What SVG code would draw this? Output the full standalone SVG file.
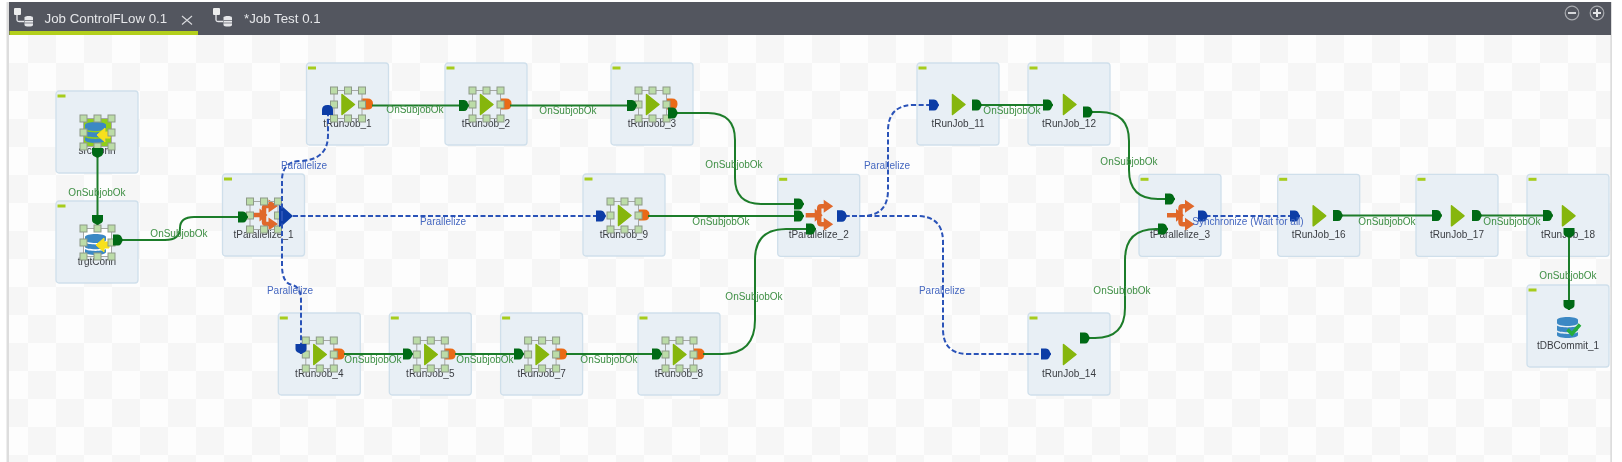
<svg xmlns="http://www.w3.org/2000/svg" width="1622" height="462" viewBox="0 0 1622 462">
<style>
.box{fill:#e8eff5;stroke:#cfdfeb;stroke-width:1.3}
.ind{fill:#a6cc1e}
.nl{font:10px "Liberation Sans",Arial,sans-serif;fill:#3a3d42;text-anchor:middle}
.gl{font:10px "Liberation Sans",Arial,sans-serif;fill:#3f8f45;text-anchor:middle}
.bl{font:10px "Liberation Sans",Arial,sans-serif;fill:#4668c0;text-anchor:middle}
.tab{font:13.3px "Liberation Sans",Arial,sans-serif;fill:#e6e7ea}
.g{fill:none;stroke:#1f7d2b;stroke-width:2;marker-end:url(#ga)}
.gs{marker-start:url(#gb)}
.b{fill:none;stroke:#2a52b8;stroke-width:2;stroke-dasharray:5 2.5;marker-end:url(#ba)}
.bs{marker-start:url(#bb)}
.hs{fill:#bcdca8;stroke:#8d9a88;stroke-width:1}
.tri{fill:#86b60a;stroke:#86b60a;stroke-width:1.5;stroke-linejoin:round}
.hi{fill:none;stroke:#e6e7ea;stroke-width:1.3}
</style>
<defs>
<filter id="soft" x="0" y="0" width="100%" height="100%"><feGaussianBlur stdDeviation="0.4"/></filter>
<pattern id="chk" x="0" y="35" width="56" height="56" patternUnits="userSpaceOnUse">
<rect width="56" height="56" fill="#fdfdfd"/>
<rect x="28" width="28" height="28" fill="#f6f6f6"/>
<rect y="28" width="28" height="28" fill="#f6f6f6"/>
</pattern>
<marker id="ga" markerUnits="userSpaceOnUse" viewBox="0 0 10 12" markerWidth="10" markerHeight="12" refX="10" refY="6" orient="auto"><path d="M0 0.500H5Q7 0.500 8 2L10 6L8 10Q7 11.500 5 11.500H0Z" fill="#056b14"/></marker>
<marker id="gb" markerUnits="userSpaceOnUse" viewBox="0 0 10 12" markerWidth="10" markerHeight="12" refX="0" refY="6" orient="auto"><path d="M0 0.500H5Q7 0.500 8 2L10 6L8 10Q7 11.500 5 11.500H0Z" fill="#056b14"/></marker>
<marker id="ba" markerUnits="userSpaceOnUse" viewBox="0 0 10 12" markerWidth="10" markerHeight="12" refX="10" refY="6" orient="auto"><path d="M0 0.500H5Q7 0.500 8 2L10 6L8 10Q7 11.500 5 11.500H0Z" fill="#0b3ea6"/></marker>
<marker id="bb" markerUnits="userSpaceOnUse" viewBox="0 0 10 12" markerWidth="10" markerHeight="12" refX="0" refY="6" orient="auto"><path d="M0 0.500H5Q7 0.500 8 2L10 6L8 10Q7 11.500 5 11.500H0Z" fill="#0b3ea6"/></marker>
<g id="frame"><rect class="box" width="82" height="82" rx="3"/><rect class="ind" x="1.500" y="3.500" width="8" height="3"/></g>
<path id="run" class="tri" d="M35.500 31.500L48 41.500L35.500 51.500Z"/>
<path id="orange" d="M55 35.500H61Q66.500 35.500 66.500 41Q66.500 46.500 61 46.500H55Z" fill="#ea6a12"/>
<g id="handles">
<rect x="27.500" y="27.500" width="28" height="28" fill="none" stroke="#a5a8a5" stroke-width="1"/>
<rect class="hs" x="24" y="24" width="7" height="7"/><rect class="hs" x="38" y="24" width="7" height="7"/><rect class="hs" x="52" y="24" width="7" height="7"/>
<rect class="hs" x="24" y="38" width="7" height="7"/><rect class="hs" x="52" y="38" width="7" height="7"/>
<rect class="hs" x="24" y="52" width="7" height="7"/><rect class="hs" x="38" y="52" width="7" height="7"/><rect class="hs" x="52" y="52" width="7" height="7"/>
</g>
<g id="par">
<path d="M28 41H40M50 32H43.500Q41.500 32 41.500 34V48Q41.500 50 43.500 50H50" fill="none" stroke="#e0682c" stroke-width="4.500"/>
<path d="M37 34.500L45 41L37 47.500ZM46 25.500L55.500 32L46 38.500ZM46 43.500L55.500 50L46 56.500Z" fill="#e0682c"/>
</g>
<g id="db">
<path d="M0 3C0 -1 21 -1 21 3V6C21 10 0 10 0 6Z" fill="#3b88c4"/>
<path d="M0 8.500C3 11 18 11 21 8.500V13C21 16 0 16 0 13Z" fill="#3b88c4"/>
<path d="M0 15C3 17.500 18 17.500 21 15V18C21 22 0 22 0 18Z" fill="#3b88c4"/>
</g>
<path id="yarrow" d="M0 0L8 -7V-3H13V3H8V7Z" fill="#f7e11e" stroke="#f7e11e" stroke-linejoin="round"/>
<g id="tabic">
<rect x="14" y="8" width="7" height="7" rx="1" fill="#eceded"/>
<path class="hi" d="M17 15V20Q17 21.500 19 21.500H24"/>
<path d="M24.500 17.500C24.500 15.500 33 15.500 33 17.500V25C33 27 24.500 27 24.500 25Z" fill="#e6e7ea"/>
<path d="M24.500 20.500H33M24.500 23H33" stroke="#53565f" stroke-width=".7"/>
</g>
</defs>

<g id="picture" filter="url(#soft)">
<g id="canvas">
<rect width="1622" height="462" fill="#ffffff"/>
<rect x="9" y="35" width="1602" height="427" fill="url(#chk)"/>
<rect x="6.500" y="2" width="2.500" height="460" fill="#dddddd"/>
<rect x="1610.500" y="2" width="1.200" height="460" fill="#cfcfcf"/>
</g>

<g id="tabbar">
<rect x="9" y="2" width="1602" height="33" fill="#53565f"/>
<rect x="9.500" y="31" width="188.500" height="4" fill="#b3cf1f"/>
<use href="#tabic"/>
<text class="tab" x="44.500" y="23">Job ControlFLow 0.1</text>
<path d="M182 16L192 24.500M192 16L182 24.500" stroke="#d9dade" stroke-width="1.100" fill="none"/>
<use href="#tabic" x="199"/>
<text class="tab" x="244" y="23">*Job Test 0.1</text>
<circle cx="1572" cy="13" r="6.800" fill="none" stroke="#a9abb0" stroke-width="1.200"/>
<path d="M1568 13H1576" stroke="#d6d7da" stroke-width="2"/>
<circle cx="1597" cy="13" r="6.800" fill="none" stroke="#a9abb0" stroke-width="1.200"/>
<path d="M1593 13H1601M1597 9V17" stroke="#e4e5e7" stroke-width="2"/>
</g>

<g id="srcConn" transform="translate(56 91)"><use href="#frame"/>
<rect x="27" y="27" width="28" height="28" fill="#8fce1e"/>
<use href="#db" x="29" y="31"/><use href="#yarrow" x="41" y="44"/>
<text class="nl" x="41" y="63">srcConn</text><use href="#handles"/></g>

<g id="trgtConn" transform="translate(56 201)"><use href="#frame"/>
<rect x="27" y="27" width="28" height="28" fill="#ffffff"/>
<use href="#db" x="29" y="33"/><use href="#yarrow" x="40" y="44"/>
<text class="nl" x="41" y="64">trgtConn</text><use href="#handles"/></g>

<g id="tParallelize_1" transform="translate(222.500 174)"><use href="#frame"/>
<use href="#par"/><text class="nl" x="41" y="64">tParallelize_1</text><use href="#handles"/>
<path d="M56.500 31L61 33.500L70.500 42L61 50.500L56.500 53Z" fill="#0b3ea6"/></g>

<g id="tRunJob_1" transform="translate(306.500 63)"><use href="#frame"/><use href="#orange"/><use href="#run"/><text class="nl" x="41" y="64">tRunJob_1</text><use href="#handles"/></g>
<g id="tRunJob_2" transform="translate(445 63)"><use href="#frame"/><use href="#orange"/><use href="#run"/><text class="nl" x="41" y="64">tRunJob_2</text><use href="#handles"/></g>
<g id="tRunJob_3" transform="translate(611 63)"><use href="#frame"/><use href="#orange"/><use href="#run"/><text class="nl" x="41" y="64">tRunJob_3</text><use href="#handles"/></g>
<g id="tRunJob_9" transform="translate(583 174)"><use href="#frame"/><use href="#orange"/><use href="#run"/><text class="nl" x="41" y="64">tRunJob_9</text><use href="#handles"/></g>

<g id="tRunJob_4" transform="translate(278.300 313)"><use href="#frame"/><use href="#orange"/><use href="#run"/><text class="nl" x="41" y="64">tRunJob_4</text><use href="#handles"/></g>
<g id="tRunJob_5" transform="translate(389.300 313)"><use href="#frame"/><use href="#orange"/><use href="#run"/><text class="nl" x="41" y="64">tRunJob_5</text><use href="#handles"/></g>
<g id="tRunJob_7" transform="translate(500.600 313)"><use href="#frame"/><use href="#orange"/><use href="#run"/><text class="nl" x="41" y="64">tRunJob_7</text><use href="#handles"/></g>
<g id="tRunJob_8" transform="translate(638 313)"><use href="#frame"/><use href="#orange"/><use href="#run"/><text class="nl" x="41" y="64">tRunJob_8</text><use href="#handles"/></g>

<g id="tParallelize_2" transform="translate(777.700 174.300)"><use href="#frame"/><use href="#par"/><text class="nl" x="41" y="64">tParallelize_2</text></g>
<g id="tParallelize_3" transform="translate(1139 174.300)"><use href="#frame"/><use href="#par"/><text class="nl" x="41" y="64">tParallelize_3</text></g>

<g id="tRunJob_11" transform="translate(917 63)"><use href="#frame"/><use href="#run"/><text class="nl" x="41" y="64">tRunJob_11</text></g>
<g id="tRunJob_12" transform="translate(1028 63)"><use href="#frame"/><use href="#run"/><text class="nl" x="41" y="64">tRunJob_12</text></g>
<g id="tRunJob_14" transform="translate(1028 313)"><use href="#frame"/><use href="#run"/><text class="nl" x="41" y="64">tRunJob_14</text></g>
<g id="tRunJob_16" transform="translate(1277.700 174.300)"><use href="#frame"/><use href="#run"/><text class="nl" x="41" y="64">tRunJob_16</text></g>
<g id="tRunJob_17" transform="translate(1416 174.300)"><use href="#frame"/><use href="#run"/><text class="nl" x="41" y="64">tRunJob_17</text></g>
<g id="tRunJob_18" transform="translate(1527 174.300)"><use href="#frame"/><use href="#run"/><text class="nl" x="41" y="64">tRunJob_18</text></g>
<g id="tDBCommit_1" transform="translate(1527 285)"><use href="#frame"/>
<use href="#db" x="30" y="32"/>
<path d="M40.500 44.500L45 49L53 39.500" fill="none" stroke="#25ad3a" stroke-width="3.500"/>
<text class="nl" x="41" y="64">tDBCommit_1</text></g>

<g id="connectors">
<path class="g gs" d="M97.500 148V225"/>
<path class="g gs" d="M113 240H165Q180 240 180 228Q180 217 194 217H248"/>
<path class="g" d="M372 105.500H469"/>
<path class="g" d="M510 105.500H637"/>
<path class="g gs" d="M668 113H708Q735 113 735 140V178Q735 204 761 204H804"/>
<path class="g" d="M648 216H804"/>
<path class="g" d="M703 354H722Q755 354 755 320V260Q755 229 786 229H816"/>
<path class="g" d="M344 354H413"/>
<path class="g" d="M455 354H524"/>
<path class="g" d="M566 354H662"/>
<path class="g gs" d="M972 105H1053"/>
<path class="g gs" d="M1083 112H1100Q1129 112 1129 141V170Q1129 199 1158 199H1175"/>
<path class="g gs" d="M1080 338H1095Q1125 338 1125 308V260Q1125 229 1156 229H1168"/>
<path class="g gs" d="M1333 215.500H1442"/>
<path class="g gs" d="M1472 215.500H1553"/>
<path class="g gs" d="M1569 228V310"/>
<path class="b" d="M282 216V180Q282 162 300 161Q328 160 328 135V105" style="marker-end:none"/>
<path d="M322 115V110Q322 105 327.500 105Q333 105 333 110V115Z" fill="#0b3ea6"/>
<path class="b" d="M293 216H606"/>
<path class="b" d="M282 216V265Q282 283 292 285Q301 287 301 300V354"/>
<path class="b bs" d="M837 216H862Q888 216 888 190V131Q888 105 914 105H939"/>
<path class="b bs" d="M837 216H917Q943 216 943 242V329Q943 354 968 354H1051"/>
<path class="b bs" d="M1198 216H1300"/>
</g>

<g id="connector-labels">
<text class="gl" x="97" y="196">OnSubjobOk</text>
<text class="gl" x="179" y="237">OnSubjobOk</text>
<text class="gl" x="415" y="113">OnSubjobOk</text>
<text class="gl" x="568" y="114">OnSubjobOk</text>
<text class="gl" x="734" y="168">OnSubjobOk</text>
<text class="gl" x="721" y="225">OnSubjobOk</text>
<text class="gl" x="754" y="300">OnSubjobOk</text>
<text class="gl" x="373" y="363">OnSubjobOk</text>
<text class="gl" x="485" y="363">OnSubjobOk</text>
<text class="gl" x="609" y="363">OnSubjobOk</text>
<text class="gl" x="1012" y="114">OnSubjobOk</text>
<text class="gl" x="1129" y="165">OnSubjobOk</text>
<text class="gl" x="1122" y="294">OnSubjobOk</text>
<text class="gl" x="1387" y="225">OnSubjobOk</text>
<text class="gl" x="1512" y="225">OnSubjobOk</text>
<text class="gl" x="1568" y="279">OnSubjobOk</text>
<text class="bl" x="304" y="169">Parallelize</text>
<text class="bl" x="443" y="225">Parallelize</text>
<text class="bl" x="290" y="294">Parallelize</text>
<text class="bl" x="887" y="169">Parallelize</text>
<text class="bl" x="942" y="294">Parallelize</text>
<text class="bl" x="1248" y="225">Synchronize (Wait for all)</text>
</g>
</g>
</svg>
